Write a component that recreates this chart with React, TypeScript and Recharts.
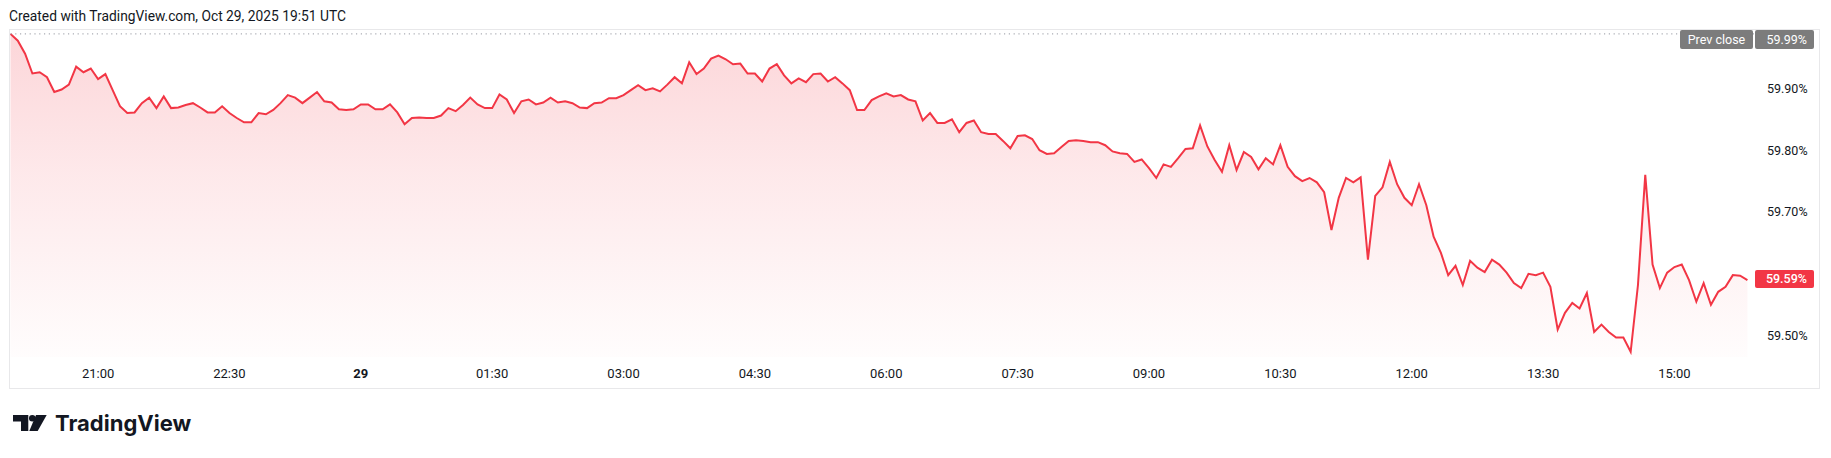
import React from "react";
import { ComposedChart, Area, XAxis, YAxis, ReferenceLine } from "recharts";

// one reading every 5 minutes, first one at Oct 28 20:00
const BAR_MINUTES = 5;

const values = [
  59.988, 59.977, 59.956, 59.924, 59.926, 59.918, 59.894, 59.898, 59.906, 59.935,
  59.926, 59.932, 59.915, 59.923, 59.897, 59.871, 59.860, 59.861, 59.876, 59.885,
  59.868, 59.887, 59.868, 59.869, 59.873, 59.876, 59.869, 59.861, 59.861, 59.871,
  59.860, 59.852, 59.845, 59.845, 59.860, 59.858, 59.865, 59.876, 59.889, 59.885,
  59.876, 59.885, 59.894, 59.879, 59.877, 59.866, 59.865, 59.866, 59.874, 59.874,
  59.866, 59.866, 59.874, 59.861, 59.842, 59.852, 59.853, 59.852, 59.852, 59.856,
  59.868, 59.863, 59.873, 59.885, 59.874, 59.868, 59.868, 59.890, 59.882, 59.860,
  59.879, 59.882, 59.874, 59.877, 59.885, 59.877, 59.879, 59.876, 59.869, 59.868,
  59.876, 59.877, 59.884, 59.884, 59.889, 59.897, 59.905, 59.897, 59.900, 59.895,
  59.906, 59.918, 59.908, 59.942, 59.923, 59.932, 59.948, 59.953, 59.947, 59.939,
  59.940, 59.924, 59.924, 59.911, 59.932, 59.939, 59.921, 59.908, 59.916, 59.910,
  59.923, 59.924, 59.911, 59.918, 59.908, 59.897, 59.865, 59.865, 59.881, 59.887,
  59.892, 59.887, 59.889, 59.882, 59.879, 59.848, 59.860, 59.844, 59.844, 59.850,
  59.829, 59.844, 59.848, 59.829, 59.826, 59.826, 59.815, 59.803, 59.823, 59.824,
  59.818, 59.800, 59.794, 59.795, 59.805, 59.815, 59.816, 59.815, 59.813, 59.813,
  59.808, 59.798, 59.795, 59.794, 59.781, 59.785, 59.771, 59.755, 59.777, 59.773,
  59.787, 59.802, 59.803, 59.840, 59.806, 59.784, 59.765, 59.808, 59.768, 59.797,
  59.789, 59.769, 59.787, 59.777, 59.808, 59.773, 59.758, 59.750, 59.755, 59.748,
  59.732, 59.671, 59.723, 59.755, 59.748, 59.756, 59.623, 59.726, 59.740, 59.781,
  59.745, 59.723, 59.711, 59.745, 59.711, 59.660, 59.634, 59.598, 59.613, 59.582,
  59.621, 59.610, 59.603, 59.623, 59.615, 59.602, 59.585, 59.577, 59.600, 59.598,
  59.602, 59.579, 59.510, 59.537, 59.553, 59.544, 59.569, 59.506, 59.518, 59.506,
  59.497, 59.497, 59.474, 59.582, 59.760, 59.615, 59.577, 59.602, 59.611, 59.615,
  59.590, 59.555, 59.585, 59.550, 59.571, 59.579, 59.598, 59.597, 59.590,
];

// minutes after Oct 28 20:00
const tickMinutes = [60, 150, 240, 330, 420, 510, 600, 690, 780, 870, 960, 1050, 1140];
const tickLabels = ["21:00", "22:30", "29", "01:30", "03:00", "04:30", "06:00", "07:30", "09:00", "10:30", "12:00", "13:30", "15:00"];
const dayLabels = ["29"];

const priceTicks = [59.5, 59.7, 59.8, 59.9];
const prevClose = 59.988;
const lastValue = values[values.length - 1];

const RED = "#f23645";
const GRAY = "#7c7c7c";
const TEXT = "#131722";
const FONT = "Roboto, 'Liberation Sans', Arial, sans-serif";

const data = values.map((v, i) => ({ t: i * BAR_MINUTES, v }));

const pct = (v: number) => `${v.toFixed(2)}%`;

function TimeTick({ x, y, payload }: any) {
  const label = tickLabels[tickMinutes.indexOf(payload.value)] ?? "";
  return (
    <text
      x={x}
      y={y}
      dy="0.71em"
      textAnchor="middle"
      fill={TEXT}
      fontSize={13}
      fontFamily={FONT}
      fontWeight={dayLabels.includes(label) ? 700 : 400}
    >
      {label}
    </text>
  );
}

function PrevCloseLabel(props: any) {
  const vb = props.viewBox;
  if (!vb) return null;
  const top = Math.max(vb.y - 9.5, 30);
  const right = vb.x + vb.width;
  return (
    <g>
      <rect x={right - 74} y={top} width={73} height={19} rx={2} fill={GRAY} />
      <text x={right - 37.5} y={top + 9.5} dy="0.355em" textAnchor="middle" fill="#fff" fontSize={12.5} fontFamily={FONT}>
        Prev close
      </text>
      <rect x={right + 1} y={top} width={59} height={19} rx={2} fill={GRAY} />
      <text x={right + 53} y={top + 9.5} dy="0.355em" textAnchor="end" fill="#fff" fontSize={12.5} fontFamily={FONT}>
        {pct(prevClose)}
      </text>
    </g>
  );
}

function LastValueLabel(props: any) {
  const vb = props.viewBox;
  if (!vb) return null;
  const right = vb.x + vb.width;
  return (
    <g>
      <rect x={right + 1} y={vb.y - 10} width={59} height={18} rx={2} fill={RED} />
      <text x={right + 53} y={vb.y - 1} dy="0.355em" textAnchor="end" fill="#fff" fontSize={12.5} fontFamily={FONT} fontWeight={500}>
        {pct(lastValue)}
      </text>
    </g>
  );
}

export default function App() {
  return (
    <div style={{ position: "absolute", left: 0, top: 0, width: 1831, height: 458, background: "#fff", overflow: "hidden" }}>
      <svg style={{ position: "absolute", left: 0, top: 0 }} width={400} height={28}>
        <text x={9} y={21} fill={TEXT} fontSize={13.8} fontFamily={FONT}>
          Created with TradingView.com, Oct 29, 2025 19:51 UTC
        </text>
      </svg>
      <div
        style={{
          position: "absolute",
          left: 9,
          top: 29,
          width: 1811,
          height: 360,
          boxSizing: "border-box",
          border: "1px solid #e8e8ea",
        }}
      />
      <div style={{ position: "absolute", left: 0, top: 0 }}>
        <ComposedChart width={1831} height={458} data={data} margin={{ top: 30, left: 10, right: 12, bottom: 70 }}>
          <defs>
            <linearGradient id="areaFill" x1="0" y1="0" x2="0" y2="1">
              <stop offset="0%" stopColor={RED} stopOpacity={0.34} />
              <stop offset="45%" stopColor={RED} stopOpacity={0.18} />
              <stop offset="100%" stopColor={RED} stopOpacity={0.02} />
            </linearGradient>
          </defs>
          <XAxis
            dataKey="t"
            type="number"
            domain={[-0.34, 1194.5]}
            allowDataOverflow
            ticks={tickMinutes}
            interval={0}
            tick={<TimeTick />}
            tickMargin={6}
            axisLine={false}
            tickLine={false}
            height={31}
          />
          <YAxis
            orientation="right"
            type="number"
            domain={[59.4656, 59.9943]}
            allowDataOverflow
            ticks={priceTicks}
            interval={0}
            tickFormatter={pct}
            tick={{ fill: TEXT, fontSize: 12.5, fontFamily: FONT }}
            tickMargin={7}
            axisLine={false}
            tickLine={false}
            width={65}
          />
          <Area
            type="linear"
            dataKey="v"
            stroke={RED}
            strokeWidth={2}
            fill="url(#areaFill)"
            dot={false}
            activeDot={false}
            isAnimationActive={false}
          />
          <ReferenceLine y={prevClose} stroke="#9598a1" strokeDasharray="1.2 3.6" label={<PrevCloseLabel />} />
          <ReferenceLine y={lastValue} stroke="none" label={<LastValueLabel />} />
        </ComposedChart>
      </div>
      <svg style={{ position: "absolute", left: 0, top: 400 }} width={220} height={45}>
        <path d="M13,15 H28.3 V31 H21 V21.5 H13 Z" fill={TEXT} />
        <circle cx={32.3} cy={18.3} r={3.3} fill={TEXT} />
        <path d="M36,15 H46.7 L37.7,31 H29.3 Z" fill={TEXT} />
        <text x={55} y={30.5} fill={TEXT} fontSize={22} fontWeight={700} fontFamily="Inter, Roboto, sans-serif">
          TradingView
        </text>
      </svg>
    </div>
  );
}
